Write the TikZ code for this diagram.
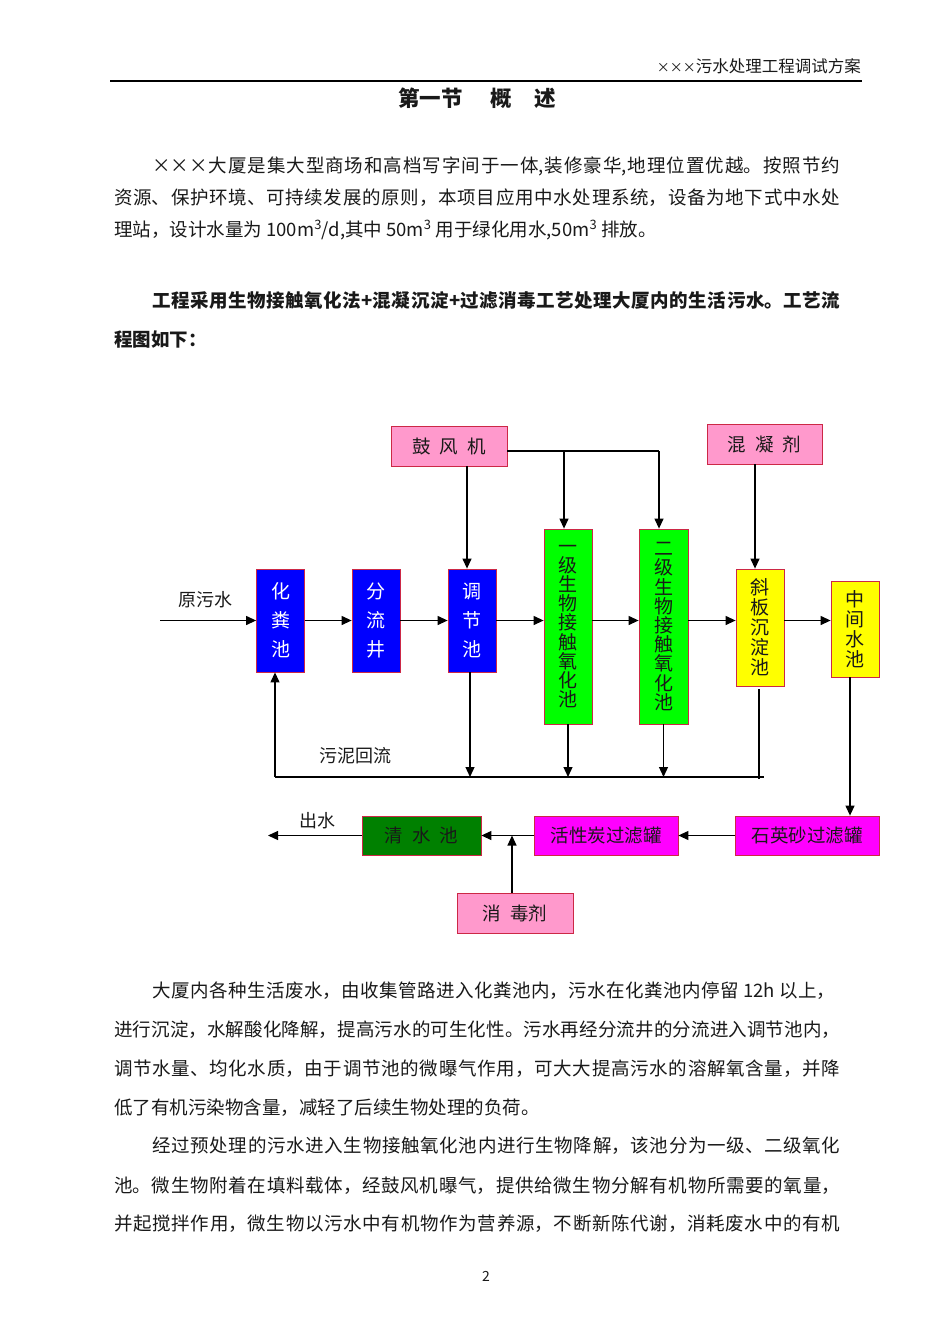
\documentclass[tikz,border=0pt]{standalone}
\usepackage{fontspec}
\setmainfont{Noto Sans CJK SC}
\usetikzlibrary{arrows.meta,calc}
\definecolor{bx}{RGB}{204,40,70}
\definecolor{pinkf}{RGB}{255,153,204}
\definecolor{bluef}{RGB}{0,0,255}
\definecolor{greenf}{RGB}{0,255,0}
\definecolor{yellowf}{RGB}{255,255,0}
\definecolor{magf}{RGB}{255,0,255}
\definecolor{dgreenf}{RGB}{0,128,0}
\definecolor{txt}{RGB}{25,25,25}
\newcommand\bodyf{\fontsize{18.5}{22}\selectfont}
\newcommand\jline[5]{\node[anchor=west,inner sep=0pt,text width=#4pt,align=justify,font=\bodyf,text=txt] (#1) at (#2,#3) {\XeTeXlinebreaklocale "zh"\XeTeXlinebreakskip=0pt plus 1fil\parfillskip=0pt\relax #5\par};}
\tikzset{
  box/.style={draw=bx, line width=0.8pt, inner sep=0pt, text=txt},
  hbox/.style={box, font={\fontsize{18.5}{22}\selectfont}},
  vblue/.style={box, fill=bluef, text=white, align=center, minimum width=48pt, minimum height=103pt, font={\fontsize{19}{29}\selectfont\lineskiplimit=-20pt}},
  vgreen/.style={box, fill=greenf, align=center, minimum width=48pt, minimum height=195pt, font={\fontsize{19}{19.2}\selectfont\lineskiplimit=-20pt}},
  vyellow/.style={box, fill=yellowf, align=center, minimum width=48pt, font={\fontsize{19}{20}\selectfont\lineskiplimit=-20pt}},
  arr/.style={line width=1.2pt, -{Triangle[length=10pt,width=9pt]}},
  ln/.style={line width=1.2pt},
  lbl/.style={inner sep=0pt, text=txt, font={\fontsize{18}{22}\selectfont}}
}
\begin{document}
\begin{tikzpicture}[x=1pt,y=-1pt]
\path[use as bounding box] (0,0) rectangle (950,1344);
% header
\node[anchor=east,inner sep=0pt,text=txt,font={\fontsize{16.5}{20}\selectfont}] (hdr) at (861,66) {{\fontsize{13}{16}\selectfont ×××}污水处理工程调试方案};
\draw[line width=1.6pt] (110,81) -- (862,81);
\node[inner sep=0pt,text=txt,font={\fontsize{21.5}{24}\selectfont\bfseries}] (ttl) at (477,98) {第一节\hspace{28pt}概\hspace{22pt}述};
% paragraph 1
\jline{p1a}{152}{166}{688}{×××大厦是集大型商场和高档写字间于一体,装修豪华,地理位置优越。按照节约}
\jline{p1b}{114}{198}{726}{资源、保护环境、可持续发展的原则，本项目应用中水处理系统，设备为地下式中水处}
\node[anchor=west,inner sep=0pt,font=\bodyf,text=txt] (p1c) at (114,230) {理站，设计水量为 100m\textsuperscript{3}/d,其中 50m\textsuperscript{3} 用于绿化用水,50m\textsuperscript{3} 排放。};
% paragraph 2 (bold)
\node[anchor=west,inner sep=0pt,text width=688pt,align=justify,font={\bodyf\bfseries},text=txt] (p2a) at (152,301) {\XeTeXlinebreaklocale "zh"\XeTeXlinebreakskip=0pt plus 1fil\parfillskip=0pt\relax 工程采用生物接触氧化法+混凝沉淀+过滤消毒工艺处理大厦内的生活污水。工艺流\par};
\node[anchor=west,inner sep=0pt,font={\bodyf\bfseries},text=txt] (p2b) at (114,340) {程图如下：};
% ---------------- diagram ----------------
\node[hbox,fill=pinkf,minimum width=116pt,minimum height=40pt] (bl) at (449,446) {鼓\hspace{9pt}风\hspace{9pt}机};
\node[hbox,fill=pinkf,minimum width=115pt,minimum height=40pt] (cg) at (764.5,444) {混\hspace{9pt}凝\hspace{9pt}剂};
\node[vblue] (hf) at (280.5,620.5) {化\\粪\\池};
\node[vblue] (fl) at (376,620.5) {分\\流\\井};
\node[vblue] (tj) at (472,620.5) {调\\节\\池};
\node[vgreen] (g1) at (568,626.5) {一\\级\\生\\物\\接\\触\\氧\\化\\池};
\node[vgreen,minimum width=49pt] (g2) at (663.5,626.5) {二\\级\\生\\物\\接\\触\\氧\\化\\池};
\node[vyellow,minimum height=117pt] (xb) at (760,627.5) {斜\\板\\沉\\淀\\池};
\node[vyellow,minimum height=96pt] (zj) at (855,629) {中\\间\\水\\池};
\node[hbox,fill=dgreenf,minimum width=119pt,minimum height=39pt] (qs) at (421.5,835.5) {清\hspace{9pt}水\hspace{9pt}池};
\node[hbox,fill=magf,minimum width=144pt,minimum height=39pt] (hx) at (606,835.5) {活性炭过滤罐};
\node[hbox,fill=magf,minimum width=144pt,minimum height=39pt] (sy) at (807,835.5) {石英砂过滤罐};
\node[hbox,fill=pinkf,minimum width=116pt,minimum height=40pt] (xd) at (515,913) {消\hspace{9pt}毒剂};
% labels
\node[lbl] (l1) at (205,600) {原污水};
\node[lbl] (l2) at (355,756) {污泥回流};
\node[lbl] (l3) at (317,821) {出水};
% coordinates
\coordinate (in) at (160,620.5);
\coordinate (b1) at (564,451);
\coordinate (b2) at (659,451);
\coordinate (sl1) at (275,777);
\coordinate (sl2) at (764,777);
\coordinate (xb1) at (759,689);
\coordinate (xb2) at (759,779);
\coordinate (jn) at (512,835.5);
\coordinate (out) at (268,835.5);
% main flow
\draw[arr] (in) -- (hf.west);
\draw[arr] (hf.east) -- (fl.west);
\draw[arr] (fl.east) -- (tj.west);
\draw[arr] (tj.east) -- (tj.east -| g1.west);
\draw[arr] (g1.east |- tj.east) -- (g2.west |- tj.east);
\draw[arr] (g2.east |- tj.east) -- (xb.west |- tj.east);
\draw[arr] (xb.east |- tj.east) -- (zj.west |- tj.east);
% blower
\draw[arr] (bl.south -| 467,0) -- (tj.north -| 467,0);
\draw[ln] (bl.east |- b1) -- (b2);
\draw[arr] (b1) -- (g1.north -| b1);
\draw[arr] (b2) -- (g2.north -| b2);
% coagulant
\draw[arr] (cg.south -| 755,0) -- (xb.north -| 755,0);
% to filters
\draw[arr] (zj.south -| 850,0) -- (sy.north -| 850,0);
\draw[arr] (sy.west) -- (hx.east);
\draw[arr] (hx.west) -- (qs.east);
\draw[arr] (xd.north -| jn) -- (jn);
\draw[arr] (qs.west) -- (out);
% sludge return
\draw[ln] (sl1) -- (sl2);
\draw[arr] (sl1) -- (hf.south -| sl1);
\draw[arr] (tj.south -| 470,0) -- (sl1 -| 470,0);
\draw[arr] (g1.south) -- (g1.south |- sl1);
\draw[arr] (g2.south) -- (g2.south |- sl1);
\draw[ln] (xb1) -- (xb2);
% paragraph 3
\jline{p3a}{152}{991}{683}{大厦内各种生活废水，由收集管路进入化粪池内，污水在化粪池内停留 12h 以上，}
\jline{p3b}{114}{1030}{726}{进行沉淀，水解酸化降解，提高污水的可生化性。污水再经分流井的分流进入调节池内，}
\jline{p3c}{114}{1069}{726}{调节水量、均化水质，由于调节池的微曝气作用，可大大提高污水的溶解氧含量，并降}
\node[anchor=west,inner sep=0pt,font=\bodyf,text=txt] (p3d) at (114,1108) {低了有机污染物含量，减轻了后续生物处理的负荷。};
% paragraph 4
\jline{p4a}{152}{1146}{688}{经过预处理的污水进入生物接触氧化池内进行生物降解，该池分为一级、二级氧化}
\jline{p4b}{114}{1186}{726}{池。微生物附着在填料载体，经鼓风机曝气，提供给微生物分解有机物所需要的氧量，}
\jline{p4c}{114}{1224}{726}{并起搅拌作用，微生物以污水中有机物作为营养源，不断新陈代谢，消耗废水中的有机}
% page number
\node[inner sep=0pt,text=txt,font={\fontsize{14}{16}\selectfont}] (pg) at (486,1276) {2};
\end{tikzpicture}
\end{document}
